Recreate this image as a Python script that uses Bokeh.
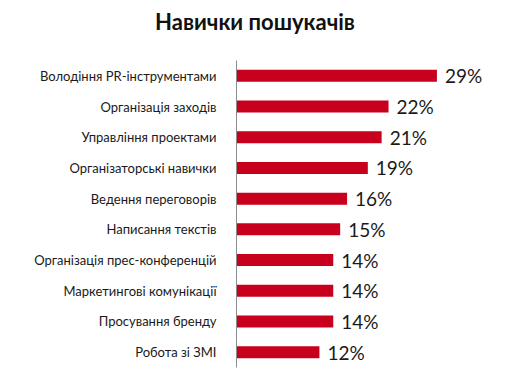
from bokeh.plotting import figure
from bokeh.models import Range1d, ColumnDataSource, Div
from bokeh.layouts import column
from bokeh.core.properties import value
from bokeh.embed import file_html
from bokeh.resources import INLINE

title_text = "Навички пошукачів"
skills = [
    "Володіння PR-інструментами",
    "Організація заходів",
    "Управління проектами",
    "Організаторські навички",
    "Ведення переговорів",
    "Написання текстів",
    "Організація прес-конференцій",
    "Маркетингові комунікації",
    "Просування бренду",
    "Робота зі ЗМІ",
]
shares = [29, 22, 21, 19, 16, 15, 14, 14, 14, 12]
share_labels = [f"{v}%" for v in shares]

title_div = Div(
    text=(f'<div style="width:500px;height:34px;line-height:34px;text-align:center;'
          f'font-family:Lato;font-weight:bold;font-size:22px;color:#111111;">{title_text}</div>'),
    width=500, height=34)

p = figure(width=500, height=333, y_range=list(reversed(skills)),
           x_range=Range1d(0, 38.2), output_backend="svg", toolbar_location=None,
           min_border_left=236, min_border_right=0, min_border_top=16, min_border_bottom=10)
p.outline_line_color = None
p.background_fill_color = "white"
p.border_fill_color = "white"
p.grid.visible = False
p.xaxis.visible = False

src = ColumnDataSource(dict(skill=skills, share=shares, lab=share_labels))
p.hbar(y="skill", right="share", left=0, height=0.39, source=src,
       fill_color="#C8001E", line_color=None)
p.text(x="share", y="skill", text="lab", source=src, x_offset=8,
       text_align="left", text_baseline="middle", text_font=value("Lato"),
       text_font_size="19px", text_color="#1a1a1a")

ya = p.yaxis[0]
ya.axis_line_color = "#8c8c8c"
ya.axis_line_width = 1
ya.major_tick_line_color = None
ya.minor_tick_line_color = None
ya.major_label_text_font = "Lato"
ya.major_label_text_font_size = "13px"
ya.major_label_text_color = "#1a1a1a"
ya.major_label_standoff = 14

layout = column(title_div, p, spacing=0)
open("out.html", "w").write(file_html(layout, INLINE))
